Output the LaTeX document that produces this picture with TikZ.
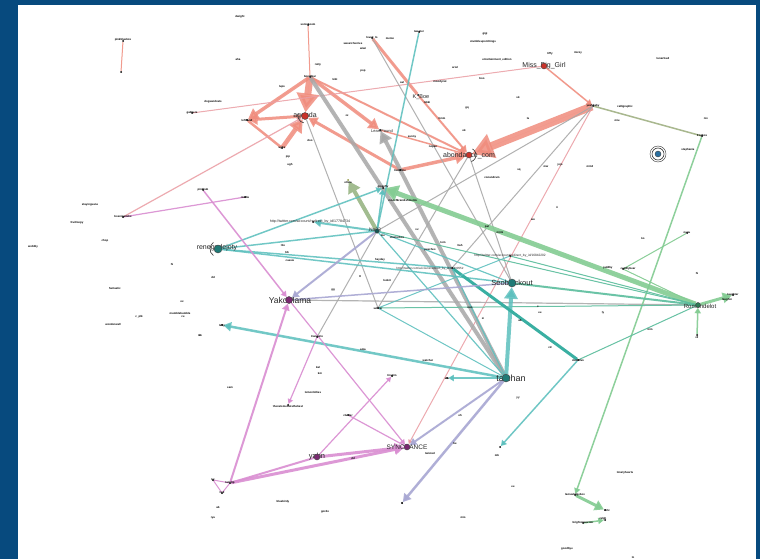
\documentclass[tikz,border=0pt]{standalone}
\usepackage{fontspec}
\setmainfont{Liberation Sans}
\usepackage{xcolor}
\usepackage{tikz}
\usetikzlibrary{arrows.meta}
\definecolor{frameblue}{HTML}{074A7E}
\definecolor{salmonred}{HTML}{F08C7D}
\definecolor{lightred}{HTML}{EBA0A6}
\definecolor{edgegray}{HTML}{A8A8A8}
\definecolor{edgegreen}{HTML}{84CC93}
\definecolor{edgeolive}{HTML}{A9B88F}
\definecolor{edgeteal}{HTML}{5DC0BE}
\definecolor{deepteal}{HTML}{3AAFA2}
\definecolor{tealgreen}{HTML}{5DBE9E}
\definecolor{edgelav}{HTML}{A9A8D3}
\definecolor{edgepink}{HTML}{DA8FD2}
\definecolor{dotred}{HTML}{C8322A}
\definecolor{dotteal}{HTML}{1F7A76}
\definecolor{dotpurple}{HTML}{7A2970}
\definecolor{dotgreen}{HTML}{2D7A55}
\definecolor{dotblue}{HTML}{2A6FA0}
\pgfdeclarelayer{back}
\pgfdeclarelayer{edges}
\pgfsetlayers{back,edges,main}
\tikzset{
  hub/.style={circle,inner sep=0pt,minimum size=#1,draw=black!75,line width=.4pt},
  sm/.style={circle,inner sep=0pt,minimum size=2pt,fill=black},
  lab/.style={font=\fontsize{7}{8}\selectfont,text=black!85,inner sep=0pt},
  tinylab/.style={font=\fontsize{2.8}{3}\selectfont\bfseries,text=black,inner sep=0pt},
  arr/.style={-{Triangle[length=2pt 2.4 0,width=2pt 2.8 0]}},
  loopline/.style={black!80,line width=.6pt},
  rd/.style={draw=salmonred,draw opacity=.85,fill=salmonred,fill opacity=.85},
  rl/.style={draw=lightred,draw opacity=.85,fill=lightred},
  gy/.style={draw=edgegray,draw opacity=.85,fill=edgegray},
  ol/.style={draw=edgeolive,fill=edgeolive},
  gn/.style={draw=edgegreen,draw opacity=.9,fill=edgegreen},
  ov/.style={draw=edgeolive!80!edgegreen,fill=edgeolive!80!edgegreen},
  tl/.style={draw=edgeteal,draw opacity=.85,fill=edgeteal},
  td/.style={draw=deepteal,fill=deepteal},
  tg/.style={draw=tealgreen,draw opacity=.9,fill=tealgreen},
  lv/.style={draw=edgelav,draw opacity=.9,fill=edgelav},
  pk/.style={draw=edgepink,draw opacity=.9,fill=edgepink}
}

\begin{document}
\begin{tikzpicture}[x=1pt,y=-1pt]
\useasboundingbox (0,0) rectangle (760,559);
\begin{pgfonlayer}{back}
  \fill[frameblue] (0,0) rectangle (760,559);
  \fill[white] (18,5) rectangle (756,559);
\end{pgfonlayer}

% labels of the large nodes
\node[lab] (agendaT) at (305,116) {agenda};
\node[lab] (abondT) at (469,156) {abondance\_com};
\node[lab] (missT) at (544,66) {Miss\_Big\_Girl};
\node[lab,font=\fontsize{5.5}{6}\selectfont] (kbeT) at (421,97) {K\_Boe};
\node[lab,font=\fontsize{4}{5}\selectfont] (learnT) at (382,131) {LearnFound};
\node[lab] (renT) at (217,248) {renegadejoty};
\node[lab,font=\fontsize{8.5}{9}\selectfont] (yakoT) at (290,300) {YakoMama};
\node[lab,font=\fontsize{5}{6}\selectfont] (na33T) at (375,230) {Na33};
\node[lab,font=\fontsize{7.5}{8}\selectfont] (seobT) at (512,283) {Seoblackout};
\node[lab,font=\fontsize{6}{7}\selectfont] (romanT) at (700,306) {Romandelot};
\node[lab,font=\fontsize{9}{10}\selectfont] (taichanT) at (511,378) {taichan};
\node[lab,font=\fontsize{6.5}{7}\selectfont] (syncT) at (407,447) {SYNCDANCE};
\node[lab,font=\fontsize{7.5}{8}\selectfont] (ybhnT) at (317,457) {yahn};
\node[lab,font=\fontsize{3.6}{4}\selectfont] (http1T) at (310,222) {http://twitter.com/account/redirect\_by\_id/17784734};
\node[lab,font=\fontsize{3}{4}\selectfont] (http2T) at (430,269) {http://twitter.com/account/redirect\_by\_id/16830552};
\node[lab,font=\fontsize{3.2}{4}\selectfont] (http3T) at (510,256) {http://twitter.com/account/redirect\_by\_id/16842202};

% small labels
\foreach \x/\y/\t [count=\i] in {
  240/17/dwight, 123/40/pinkbluebox, 308/25/sonicboom, 372/38/loveit\_lo, 390/39/metoo,
  353/44/sweetcherries, 363/48/wiwi, 310/77/bondibar, 485/34/gigi, 483/42/stumbleuponthings,
  497/60/entertainment\_edition, 550/54/tiffy, 578/53/mizzy, 663/59/lunarfeed, 455/67/ariel,
  482/78/boo, 518/97/sk, 528/118/la, 593/106/yeahbaby, 625/107/calligraphic, 617/120/miu,
  464/130/ok, 688/150/stephanie, 702/136/frogbox, 546/167/mw, 560/165/jojo, 492/177/conundrum,
  238/60/aha, 318/65/ratty, 363/71/pop, 402/82/sal, 440/82/moodycat, 282/87/lupo, 335/79/kiki,
  213/102/dogsandcats, 192/113/gabbers, 427/102/nikki, 347/116/zz, 442/118/hmm, 467/108/gq,
  412/137/sunny, 310/140/doo, 288/157/pip, 290/165/ugh, 433/147/nopan, 400/170/trendline,
  247/120/lefthand, 282/148/ughs, 203/190/pinkhub, 245/197/roadie, 383/187/greenfly,
  348/182/olivia, 393/200/mooch, 407/200/brandishments, 417/230/vv, 397/237/chatterbox,
  383/236/me, 430/250/peaches, 443/243/tom, 283/245/lilo, 287/252/bb, 290/260/cassie,
  380/260/heyday, 360/277/tt, 387/280/lookit, 378/308/seltzer, 333/290/gg, 213/277/dd,
  183/317/ce, 557/207/ii, 533/220/wu, 487/227/pal, 500/232/mimi, 460/245/hah, 608/268/jaddby,
  628/269/cuddlybear, 687/233/nunu, 643/238/ko, 697/273/hi, 733/295/laughter, 727/300/laughin,
  697/337/rd, 538/307/s, 540/313/ee, 603/313/ly, 650/330/mm, 470/308/ouo, 483/318/zi,
  520/320/ab, 550/347/cd, 578/360/doomfan, 222/326/lefty, 200/335/rin, 317/337/tranquilo,
  363/350/ama, 428/360/watcher, 318/367/kal, 320/373/km, 392/376/tinytim, 447/378/alu,
  313/392/lemonlollies, 230/388/sam, 288/406/thecatsmeowisthebest, 348/415/cluster, 460/415/oh,
  518/398/yy, 455/443/be, 430/453/twisted, 353/458/dd, 497/455/mb, 213/480/tw, 230/483/twintip,
  222/493/tw2, 283/502/bluebirdy, 218/507/ab, 325/512/gordo, 402/503/li, 513/487/ee,
  463/517/mio, 213/518/ryu, 90/205/stayingsane, 77/223/fruitloopy, 33/247/wobbly,
  105/241/chop, 172/264/hi, 115/288/fantastic, 182/302/ox, 180/313/mumblebumble, 139/317/c\_plk,
  113/324/wonderwall, 200/335/ic, 123/217/bosnigamike, 625/473/lonelyhearts, 575/495/lamusbilgebox,
  607/510/ctrlz, 603/519/ralph, 583/523/brightonwarrior, 567/549/goodbye, 633/557/lo,
  419/32/tweeter, 706/118/nix, 590/167/mm2, 519/170/sq}
  \node[tinylab] (t\i) at (\x,\y) {\t};

% dots
\node[hub=7pt,fill=dotred] (agenda) at (305,116) {};
\node[hub=6pt,fill=dotred] (abond) at (469,155) {};
\node[hub=6pt,fill=dotred] (miss) at (544,66) {};
\node[hub=8pt,fill=dotteal] (ren) at (218,249) {};
\node[hub=8pt,fill=dotteal] (seob) at (512,283) {};
\node[hub=8pt,fill=dotteal] (taichan) at (506,378) {};
\node[hub=5pt,fill=dotgreen] (roman) at (698,305) {};
\node[hub=7pt,fill=dotpurple] (yako) at (289,300) {};
\node[hub=6pt,fill=dotpurple] (sync) at (407,447) {};
\node[hub=6pt,fill=dotpurple] (ybhn) at (317,457) {};
\node[hub=4.5pt,fill=dotteal!70!black] (na33) at (377,231) {};
\node[hub=6pt,fill=dotblue] (cyan) at (658,154) {};
\node[sm] (bondi) at (310,77) {};
\node[sm] (lefty) at (247,120) {};
\node[sm] (ugh) at (282,148) {};
\node[sm] (learn) at (380,130) {};
\node[sm] (trend) at (400,170) {};
\node[sm] (kbe) at (418,95) {};
\node[sm] (lovelo) at (372,38) {};
\node[sm] (yeah) at (593,106) {};
\node[sm] (topred) at (308,25) {};
\node[sm] (pinkbox) at (123,41) {};
\node[sm] (pinklow) at (121,72) {};
\node[sm] (bosnig) at (123,217) {};
\node[sm] (gabber) at (192,113) {};
\node[sm] (g1) at (378,308) {};
\node[sm] (frogbox) at (702,136) {};
\node[sm] (greenfly) at (383,188) {};
\node[sm,fill=edgeolive!60!yellow!70!black] (olive) at (348,180) {};
\node[sm] (http1) at (313,222) {};
\node[sm] (http2) at (452,268) {};
\node[sm] (http3) at (510,256) {};
\node[sm] (laugh) at (733,295) {};
\node[sm] (romdown) at (697,335) {};
\node[sm] (cuddly) at (623,269) {};
\node[sm] (cudd2) at (687,233) {};
\node[sm] (bottom) at (575,495) {};
\node[sm] (b2) at (605,510) {};
\node[sm] (b3) at (583,523) {};
\node[sm] (b4) at (605,520) {};
\node[sm] (doomfan) at (578,360) {};
\node[sm] (tdown) at (500,447) {};
\node[sm] (tleft) at (447,378) {};
\node[sm] (lefter) at (222,325) {};
\node[sm] (tri) at (317,337) {};
\node[sm] (tiny) at (392,376) {};
\node[sm] (ydown) at (288,405) {};
\node[sm] (cluster) at (348,415) {};
\node[sm] (pinkhub) at (203,190) {};
\node[sm] (pink2) at (245,197) {};
\node[sm] (twintip) at (230,483) {};
\node[sm] (twinA) at (213,480) {};
\node[sm] (twinB) at (222,493) {};
\node[sm] (sdown) at (402,503) {};
\node[sm] (topteal) at (419,32) {};

% self loops
\draw[loopline] (agenda.center) ++(100:7) arc[start angle=100,end angle=200,radius=7];
\draw[loopline] (abond.center) ++(-60:7) arc[start angle=-60,end angle=70,radius=7];
\draw[loopline] (ren.center) ++(125:8) arc[start angle=125,end angle=235,radius=8];
\draw[loopline] (cyan) circle[radius=6];
\draw[black!80,line width=.4pt] (cyan) circle[radius=8];

\begin{pgfonlayer}{edges}
% red
\draw[rd,line width=7,arr] (bondi) -- (agenda);
\draw[rd,line width=3.5,arr] (bondi) -- (lefty);
\draw[rd,line width=3.5,arr] (bondi) -- (learn);
\draw[rd,line width=2,arr] (bondi) -- (abond);
\draw[rd,line width=3,arr] (agenda) -- (lefty);
\draw[rd,line width=2.5] (lefty) -- (ugh);
\draw[rd,line width=4.5,arr] (ugh) -- (agenda);
\draw[rd,line width=3,arr] (trend) -- (agenda);
\draw[rd,line width=3.5,arr] (trend) -- (abond);
\draw[rd,line width=1.5,arr] (learn) -- (abond);
\draw[rd,line width=3] (lovelo) -- (kbe);
\draw[rd,line width=2,arr] (kbe) -- (abond);
\draw[rd,line width=8,arr] (yeah) -- (abond);
\draw[rd,line width=1.5,arr] (miss) -- (yeah);
\draw[rl,line width=1] (miss) -- (gabber);
\draw[rl,line width=1,arr] (yeah) -- (sync);
\draw[rd,line width=1] (topred) -- (bondi);
\draw[rd,line width=1] (pinkbox) -- (pinklow);
\draw[rl,line width=1.2,arr] (bosnig) -- (agenda);
% gray
\draw[gy,line width=4] (bondi) -- (taichan);
\draw[gy,line width=4,arr] (taichan) -- (learn);
\draw[gy,line width=1] (agenda) -- (g1);
\draw[gy,line width=1] (lovelo) -- (seob);
\draw[gy,line width=1] (yeah) -- (na33);
\draw[gy,line width=1] (yeah) -- (http2);
\draw[gy,line width=1] (abond) -- (g1);
\draw[gy,line width=1] (abond) -- (seob);
\draw[gy,line width=1.2] (yako) -- (roman);
\draw[gy,line width=1] (na33) -- (tri);
\draw[ol,line width=1.5] (yeah) -- (frogbox);
% green
\draw[gn,line width=5,arr] (roman) -- (greenfly);
\draw[ov,line width=4,arr] (na33) -- (olive);
\draw[gn,line width=3,arr] (roman) -- (laugh);
\draw[gn,line width=1.5,arr] (romdown) -- (roman);
\draw[gn,line width=1] (cuddly) -- (roman);
\draw[gn,line width=1] (cudd2) -- (cuddly);
\draw[gn,line width=1.5,arr] (frogbox) -- (bottom);
\draw[gn,line width=3,arr] (bottom) -- (b2);
\draw[gn,line width=1.5,arr] (b3) -- (b4);
\draw[tg,line width=2] (roman) -- (seob);
\draw[tg,line width=1] (roman) -- (http3);
\draw[tg,line width=1] (roman) -- (na33);
\draw[tg,line width=1] (roman) -- (doomfan);
\draw[tg,line width=1] (g1) -- (roman);
% teal
\draw[tl,line width=1.5] (topteal) -- (na33);
\draw[tl,line width=1.5,arr] (ren) -- (greenfly);
\draw[tl,line width=1.5] (ren) -- (na33);
\draw[tl,line width=1.5] (ren) -- (http2);
\draw[tl,line width=1.5] (ren) -- (seob);
\draw[tl,line width=2,arr] (na33) -- (http1);
\draw[tl,line width=1.5,arr] (na33) -- (greenfly);
\draw[tl,line width=1.2] (na33) -- (taichan);
\draw[tl,line width=1.2] (na33) -- (seob);
\draw[tl,line width=4,arr] (taichan) -- (seob);
\draw[tl,line width=2.5,arr] (taichan) -- (lefter);
\draw[tl,line width=1.5,arr] (taichan) -- (tleft);
\draw[td,line width=3] (http2) -- (doomfan);
\draw[tl,line width=1.5,arr] (doomfan) -- (tdown);
\draw[tl,line width=1.2] (http2) -- (taichan);
\draw[tl,line width=1] (g1) -- (http3);
\draw[tl,line width=1] (g1) -- (taichan);
% lavender
\draw[lv,line width=2,arr] (na33) -- (yako);
\draw[lv,line width=2,arr] (taichan) -- (sync);
\draw[lv,line width=2.5,arr] (taichan) -- (sdown);
\draw[lv,line width=1.5] (yako) -- (seob);
% pink
\draw[pk,line width=3,arr] (ybhn) -- (sync);
\draw[pk,line width=3,arr] (twintip) -- (sync);
\draw[pk,line width=2] (twintip) -- (ybhn);
\draw[pk,line width=2,arr] (twintip) -- (yako);
\draw[pk,line width=1.2,arr] (ybhn) -- (tiny);
\draw[pk,line width=1.2,arr] (tri) -- (ydown);
\draw[pk,line width=1.5,arr] (pinkhub) -- (yako);
\draw[pk,line width=1.2,arr] (yako) -- (sync);
\draw[pk,line width=1.2] (cluster) -- (sync);
\draw[pk,line width=1.2] (bosnig) -- (pink2);
\draw[pk,line width=1] (twintip) -- (twinA) -- (twinB) -- (twintip);
\end{pgfonlayer}
\end{tikzpicture}
\end{document}
